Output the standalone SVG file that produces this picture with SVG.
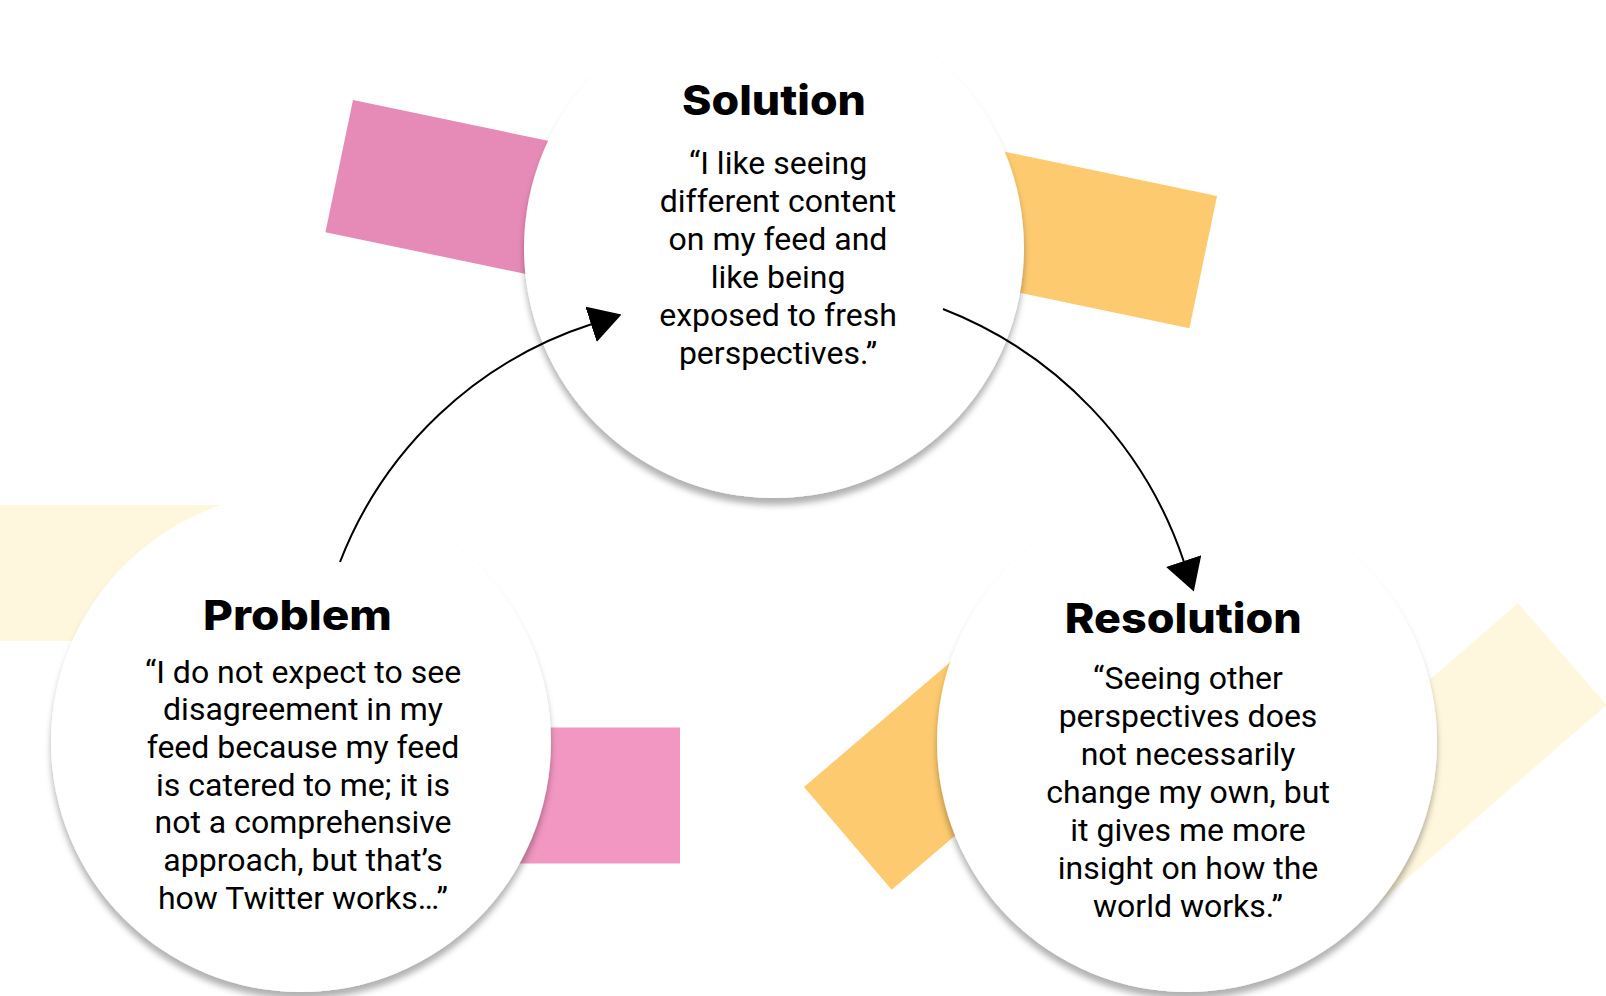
<svg xmlns="http://www.w3.org/2000/svg" width="1606" height="996" viewBox="0 0 1606 996">
  <style>
    .title { font-family: "Inter", "Noto Sans", "DejaVu Sans", sans-serif; font-weight: 800; font-size: 41px; fill: #000; text-anchor: middle; }
    .body { font-family: Roboto, "Liberation Sans", sans-serif; font-weight: 400; font-size: 32px; fill: #000; text-anchor: middle; }
    .node { fill: #ffffff; filter: url(#shadow); }
    .conn { fill: none; stroke: #000; stroke-width: 2; }
  </style>
  <defs>
    <filter id="shadow" x="-10%" y="-10%" width="120%" height="125%">
      <feDropShadow dx="0" dy="7" stdDeviation="3" flood-color="#000" flood-opacity="0.3"/>
    </filter>
    <marker id="arrow" markerUnits="userSpaceOnUse" markerWidth="32" markerHeight="37" viewBox="0 0 32 37" refX="1" refY="18.5" orient="auto">
      <path d="M0,0 L32,18.5 L0,37 Z" fill="#000"/>
    </marker>
  </defs>
  <rect width="1606" height="996" fill="#ffffff"/>

  <g id="decorations">
    <rect x="0" y="0" width="250" height="135" fill="#E68BB8" transform="translate(353,100) rotate(11.8)"/>
    <rect x="0" y="0" width="250" height="135" fill="#FDCA6F" transform="translate(972.3,144.9) rotate(11.8)"/>
    <rect x="-5" y="505" width="305" height="136" fill="#FFF7DD"/>
    <rect x="470" y="727.5" width="210" height="136" fill="#F197C1"/>
    <rect x="0" y="0" width="250" height="135" fill="#FDCA6F" transform="translate(804,787) rotate(-40.5)"/>
    <rect x="0" y="0" width="135" height="330" fill="#FFF7DD" transform="translate(1518,603) rotate(49)"/>
  </g>

  <g id="solution">
    <circle class="node" cx="774" cy="248" r="250"/>
    <text class="title" x="774" y="115" textLength="184" lengthAdjust="spacingAndGlyphs">Solution</text>
    <text class="body" x="778" y="174">“I like seeing</text>
    <text class="body" x="778" y="212">different content</text>
    <text class="body" x="778" y="250">on my feed and</text>
    <text class="body" x="778" y="288">like being</text>
    <text class="body" x="778" y="326">exposed to fresh</text>
    <text class="body" x="778" y="364">perspectives.”</text>
  </g>

  <g id="problem">
    <circle class="node" cx="301" cy="742" r="250"/>
    <text class="title" x="297.5" y="630" textLength="189" lengthAdjust="spacingAndGlyphs">Problem</text>
    <text class="body" x="303" y="682.5">“I do not expect to see</text>
    <text class="body" x="303" y="720.2">disagreement in my</text>
    <text class="body" x="303" y="757.9">feed because my feed</text>
    <text class="body" x="303" y="795.6">is catered to me; it is</text>
    <text class="body" x="303" y="833.3">not a comprehensive</text>
    <text class="body" x="303" y="871">approach, but that’s</text>
    <text class="body" x="303" y="908.7">how Twitter works…”</text>
  </g>

  <g id="resolution">
    <circle class="node" cx="1187" cy="742" r="250"/>
    <text class="title" x="1183.3" y="633" textLength="237" lengthAdjust="spacingAndGlyphs">Resolution</text>
    <text class="body" x="1188" y="689">“Seeing other</text>
    <text class="body" x="1188" y="727">perspectives does</text>
    <text class="body" x="1188" y="765">not necessarily</text>
    <text class="body" x="1188" y="803">change my own, but</text>
    <text class="body" x="1188" y="841">it gives me more</text>
    <text class="body" x="1188" y="879">insight on how the</text>
    <text class="body" x="1188" y="917">world works.”</text>
  </g>

  <g id="connectors">
    <path class="conn" d="M340,562 A403,403 0 0 1 592,324" marker-end="url(#arrow)"/>
    <path class="conn" d="M943,309 A411,411 0 0 1 1184,562" marker-end="url(#arrow)"/>
  </g>
</svg>
